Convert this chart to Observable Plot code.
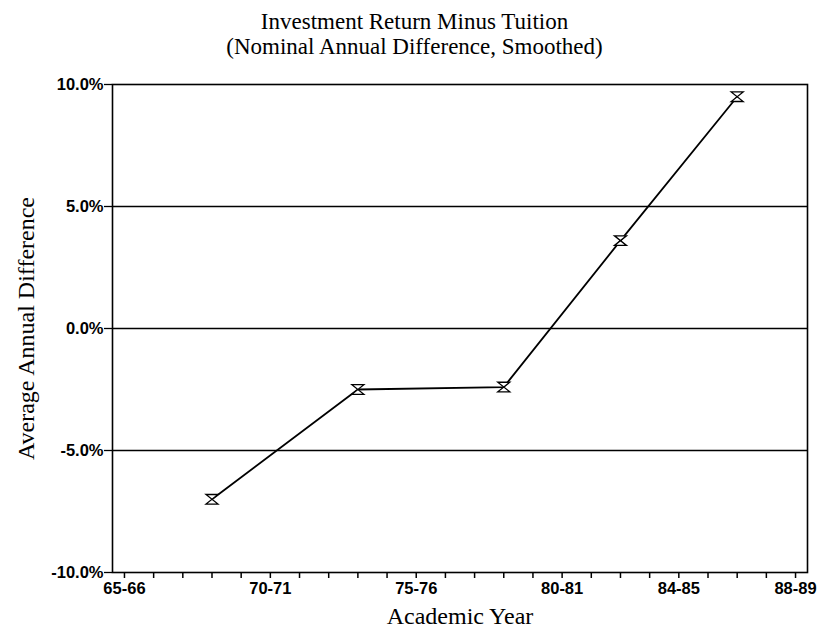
<!DOCTYPE html>
<html>
<head>
<meta charset="utf-8">
<script src="https://cdn.jsdelivr.net/npm/d3@7"></script>
<script src="https://cdn.jsdelivr.net/npm/@observablehq/plot@0.6"></script>
<style>
  html, body { margin: 0; padding: 0; background: #fff; }
  #title { width: 817px; height: 62px; box-sizing: border-box; padding-top: 9px; padding-left: 12px;
    font-family: "Liberation Serif", "Times New Roman", serif; font-size: 23px; line-height: 25px;
    text-align: center; color: #000; }
  svg { display: block; }
</style>
</head>
<body>
<div id="title">Investment Return Minus Tuition<br>(Nominal Annual Difference, Smoothed)</div>
<div id="chart"></div>
<script>
const academicYears = ["65-66","66-67","67-68","68-69","69-70","70-71","71-72","72-73","73-74","74-75","75-76","76-77","77-78","78-79","79-80","80-81","81-82","82-83","83-84","84-85","85-86","86-87","87-88","88-89"];
const labeledYears = ["65-66","70-71","75-76","80-81","84-85","88-89"];
const pointYears = ["68-69","73-74","78-79","82-83","86-87"];
const pointValues = [-7.0, -2.5, -2.4, 3.6, 9.5];
const yTicks = [-10, -5, 0, 5, 10];
const gridValues = [-5, 0, 5];

const data = pointYears.map((y, i) => ({idx: academicYears.indexOf(y), v: pointValues[i]}));

const hourglass = {
  draw(context, size) {
    const r = Math.sqrt(size / Math.PI);
    const h = r * 0.8;
    context.moveTo(-r, -h);
    context.lineTo(r, -h);
    context.lineTo(-r, h);
    context.lineTo(r, h);
    context.closePath();
  }
};

const chart = Plot.plot({
  width: 817,
  height: 569,
  marginTop: 22,
  marginBottom: 59,
  marginLeft: 112,
  marginRight: 10,
  style: {fontFamily: "'Liberation Sans', Arial, sans-serif", fontSize: "16.5px", fontWeight: "bold", color: "#000", background: "#fff"},
  x: {domain: [-0.41, academicYears.length - 1 + 0.41]},
  y: {domain: [-10, 10]},
  marks: [
    Plot.ruleY(gridValues, {stroke: "#000", strokeWidth: 1.3}),
    Plot.frame({stroke: "#000", strokeWidth: 1.6}),
    Plot.axisY({ticks: yTicks, tickSize: 8, tickPadding: 1, tickFormat: d => d.toFixed(1) + "%", label: null, strokeWidth: 1.3}),
    Plot.axisX({ticks: d3.range(academicYears.length), tickSize: 6, tickPadding: 4,
      tickFormat: i => labeledYears.includes(academicYears[i]) ? academicYears[i] : "", label: null, strokeWidth: 1.5}),
    Plot.line(data, {x: "idx", y: "v", stroke: "#000", strokeWidth: 1.8}),
    Plot.dot(data, {x: "idx", y: "v", symbol: hourglass, r: 6, fill: "#fff", stroke: "#000", strokeWidth: 1.3}),
    Plot.text(["Average Annual Difference"], {frameAnchor: "left", textAnchor: "middle", rotate: -90, dx: -86,
      fontFamily: "'Liberation Serif', 'Times New Roman', serif", fontSize: 24, fontWeight: "normal", fill: "#000"}),
    Plot.text(["Academic Year"], {frameAnchor: "bottom", dy: 51,
      fontFamily: "'Liberation Serif', 'Times New Roman', serif", fontSize: 24, fontWeight: "normal", fill: "#000"})
  ]
});
document.getElementById("chart").appendChild(chart);
</script>
</body>
</html>
